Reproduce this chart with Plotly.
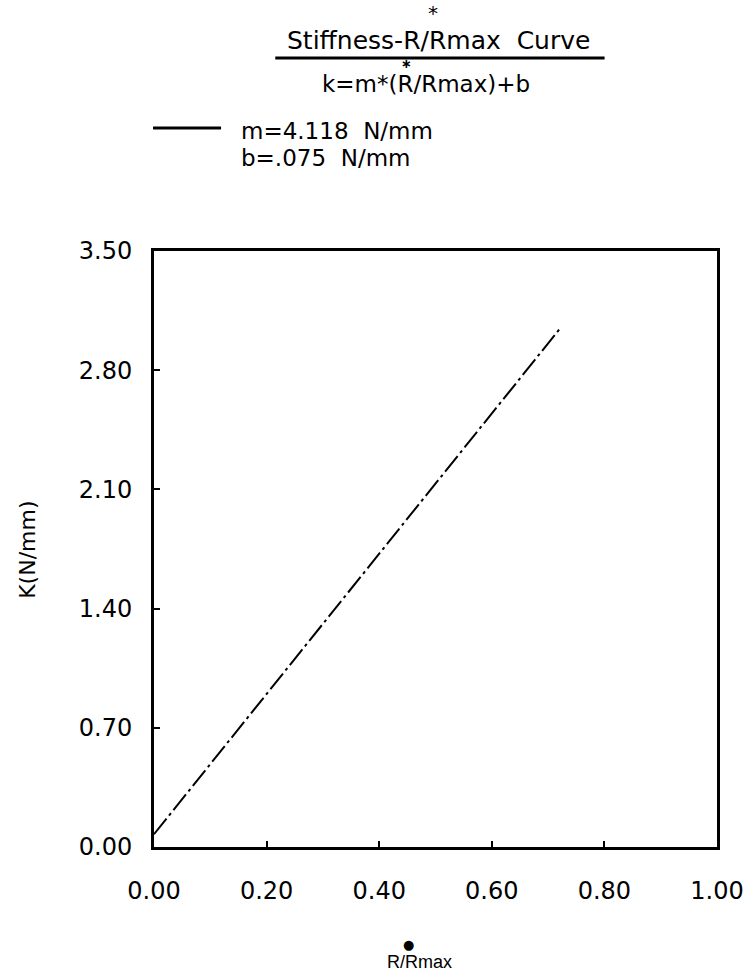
import plotly.graph_objects as go

# Data
r_ratio = [0.0, 0.72]
slope_m = 4.118
intercept_b = 0.075
stiffness = [slope_m * r + intercept_b for r in r_ratio]

x_ticks = [0.0, 0.2, 0.4, 0.6, 0.8, 1.0]
x_ticklabels = ["0.00", "0.20", "0.40", "0.60", "0.80", "1.00"]
y_ticks = [0.0, 0.7, 1.4, 2.1, 2.8, 3.5]
y_ticklabels = ["0.00", "0.70", "1.40", "2.10", "2.80", "3.50"]

W, H = 756, 980
L, R, T, B = 154, 725, 251, 847


def px(x):
    return (x - L) / (R - L)


def py(y):
    return (B - y) / (B - T)


fig = go.Figure()
fig.add_trace(go.Scatter(
    x=r_ratio, y=stiffness, mode="lines",
    line=dict(color="black", width=2, dash="20px,4px,3px,4px"),
    showlegend=False,
))

FONT = "DejaVu Sans"

fig.update_layout(
    width=W, height=H,
    margin=dict(l=L, r=W - R, t=T, b=H - B),
    paper_bgcolor="white", plot_bgcolor="white",
    showlegend=False,
    xaxis=dict(
        range=[0, 1], tickvals=x_ticks, ticktext=x_ticklabels,
        showgrid=False, zeroline=False, showline=True, mirror=True,
        linecolor="black", linewidth=3, ticks="inside", ticklen=6,
        tickwidth=1.5, tickcolor="black", ticklabelstandoff=20,
        tickfont=dict(family=FONT, size=24, color="black"),
    ),
    yaxis=dict(
        range=[0, 3.5], tickvals=y_ticks, ticktext=y_ticklabels,
        showgrid=False, zeroline=False, showline=True, mirror=True,
        linecolor="black", linewidth=3, ticks="inside", ticklen=6,
        tickwidth=1.5, tickcolor="black", ticklabelstandoff=14,
        tickfont=dict(family=FONT, size=24, color="black"),
    ),
)

ann = []


def text(t, x, y, size, xanchor="center", family=FONT, textangle=0):
    ann.append(dict(text=t, x=px(x), y=py(y), xref="paper", yref="paper",
                    xanchor=xanchor, yanchor="middle", showarrow=False,
                    textangle=textangle,
                    font=dict(family=family, size=size, color="black")))


text("Stiffness-R/Rmax  Curve", 443, 40, 25)
text("*", 437, 13, 20)
text("k=m*(R/Rmax)+b", 430, 84, 23)
text("<b>\u2217</b>", 410, 64, 13)
text("m=4.118  N/mm", 240, 131, 23, xanchor="left")
text("b=.075  N/mm", 240, 158, 23, xanchor="left")
text("R/Rmax", 423, 962, 18, family="Liberation Sans")
text("\u25cf", 412, 944, 13, family="DejaVu Sans")
text("K(N/mm)", 25, 550, 22, family=FONT, textangle=-90)

fig.update_layout(annotations=ann)

fig.add_shape(type="line", xref="paper", yref="paper",
              x0=px(277), x1=px(611), y0=py(58), y1=py(58),
              line=dict(color="black", width=3))
fig.add_shape(type="line", xref="paper", yref="paper",
              x0=px(153), x1=px(222), y0=py(128), y1=py(128),
              line=dict(color="black", width=3))

fig.write_html("out.html")
